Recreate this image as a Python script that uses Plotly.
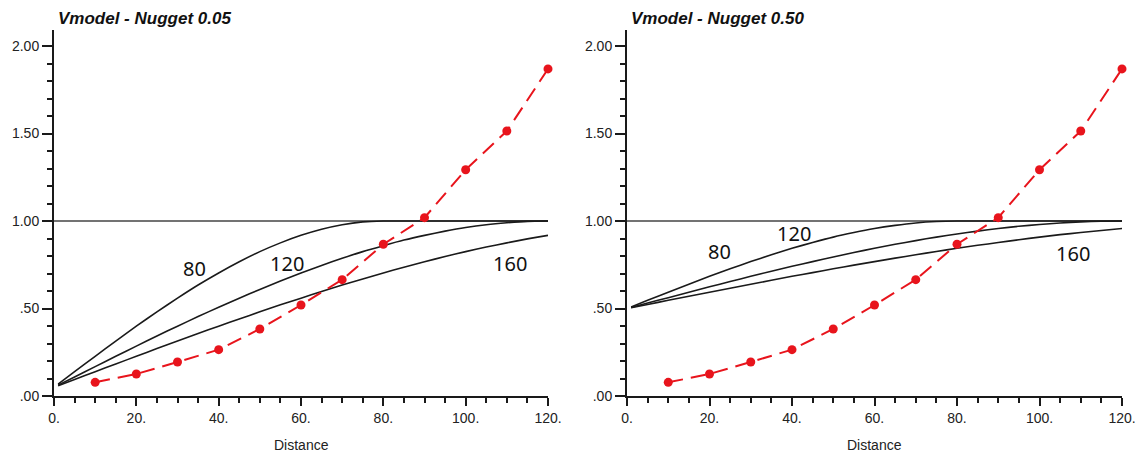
import plotly.graph_objects as go

# ---------------- data ----------------
dist_exp = [10, 20, 30, 40, 50, 60, 70, 80, 90, 100, 110, 120]
gamma_exp = [0.078, 0.126, 0.194, 0.265, 0.383, 0.520, 0.665, 0.867, 1.019, 1.293, 1.514, 1.869]

dist_model = [1, 5, 10, 15, 20, 25, 30, 35, 40, 45, 50, 55, 60, 65, 70, 75, 80,
              85, 90, 95, 100, 105, 110, 115, 120]

# Nugget 0.05
n005_r80 = [0.068, 0.139, 0.227, 0.314, 0.399, 0.481, 0.559, 0.634, 0.703, 0.767, 0.825,
            0.875, 0.918, 0.953, 0.979, 0.995, 1.0, 1.0, 1.0, 1.0, 1.0, 1.0, 1.0, 1.0, 1.0]
n005_r120 = [0.062, 0.109, 0.168, 0.227, 0.285, 0.343, 0.399, 0.454, 0.507, 0.559, 0.609,
             0.657, 0.703, 0.746, 0.787, 0.825, 0.859, 0.891, 0.918, 0.942, 0.963, 0.979,
             0.990, 0.998, 1.0]
n005_r160 = [0.059, 0.095, 0.139, 0.183, 0.227, 0.271, 0.314, 0.357, 0.399, 0.440, 0.481,
             0.521, 0.559, 0.597, 0.634, 0.669, 0.703, 0.736, 0.767, 0.797, 0.825, 0.851,
             0.875, 0.898, 0.918]

# Nugget 0.50
n050_r80 = [0.509, 0.547, 0.593, 0.639, 0.684, 0.727, 0.768, 0.807, 0.844, 0.877, 0.908,
            0.934, 0.957, 0.975, 0.989, 0.997, 1.0, 1.0, 1.0, 1.0, 1.0, 1.0, 1.0, 1.0, 1.0]
n050_r120 = [0.506, 0.531, 0.562, 0.593, 0.624, 0.654, 0.684, 0.713, 0.741, 0.768, 0.794,
             0.820, 0.844, 0.867, 0.888, 0.908, 0.926, 0.942, 0.957, 0.970, 0.980, 0.989,
             0.995, 0.999, 1.0]
n050_r160 = [0.505, 0.523, 0.547, 0.570, 0.593, 0.616, 0.639, 0.661, 0.684, 0.705, 0.727,
             0.748, 0.768, 0.788, 0.807, 0.826, 0.844, 0.861, 0.877, 0.893, 0.908, 0.922,
             0.934, 0.946, 0.957]

sill_x = [0, 120]
sill_y = [1.0, 1.0]

x_tickvals = [0, 20, 40, 60, 80, 100, 120]
x_ticktext = ["0.", "20.", "40.", "60.", "80.", "100.", "120."]
y_tickvals = [0, 0.5, 1.0, 1.5, 2.0]
y_ticktext = [".00", ".50", "1.00", "1.50", "2.00"]

titles = ["Vmodel - Nugget 0.05", "Vmodel - Nugget 0.50"]
range_labels = ["80", "120", "160"]
label_pos_left = [(34.2, 0.73), (56.6, 0.76), (110.8, 0.76)]
label_pos_right = [(22.5, 0.823), (40.5, 0.931), (108.1, 0.817)]

# ---------------- figure ----------------
W, H = 1138, 455
fig = go.Figure()

panels = [
    dict(xa="x", ya="y", models=[n005_r80, n005_r120, n005_r160], labels=label_pos_left,
         dom=[54 / W, 548 / W], title_x=56 / W),
    dict(xa="x2", ya="y2", models=[n050_r80, n050_r120, n050_r160], labels=label_pos_right,
         dom=[627 / W, 1122 / W], title_x=629 / W),
]

RED = "#e8141c"
for i, p in enumerate(panels):
    fig.add_trace(go.Scatter(x=sill_x, y=sill_y, mode="lines", xaxis=p["xa"], yaxis=p["ya"],
                             line=dict(color="#444444", width=1.5), showlegend=False,
                             hoverinfo="skip"))
    for m in p["models"]:
        fig.add_trace(go.Scatter(x=dist_model, y=m, mode="lines", xaxis=p["xa"], yaxis=p["ya"],
                                 line=dict(color="#1a1a1a", width=1.6, shape="spline",
                                           smoothing=0.6),
                                 showlegend=False))
    fig.add_trace(go.Scatter(x=dist_exp, y=gamma_exp, mode="lines+markers",
                             xaxis=p["xa"], yaxis=p["ya"], cliponaxis=False,
                             line=dict(color=RED, width=2, dash="15px,8px"),
                             marker=dict(color=RED, size=9), showlegend=False))
    for lab, (lx, ly) in zip(range_labels, p["labels"]):
        fig.add_annotation(x=lx, y=ly, xref=p["xa"], yref=p["ya"], text=lab, showarrow=False,
                           xanchor="center", yanchor="middle",
                           font=dict(family="Noto Sans", size=20, color="#111111"))
    fig.add_annotation(x=p["title_x"], y=(H - 19) / H, xref="paper", yref="paper",
                       text="<b><i>" + titles[i] + "</i></b>", showarrow=False,
                       xanchor="left", yanchor="middle",
                       font=dict(family="Liberation Sans", size=17, color="#111111"))
    fig.add_annotation(x=(p["dom"][0] + p["dom"][1]) / 2, y=(H - 445) / H, xref="paper",
                       yref="paper", text="Distance", showarrow=False,
                       xanchor="center", yanchor="middle",
                       font=dict(family="Liberation Sans", size=14, color="#222222"))

ydom = [(H - 396) / H, (H - 396 + 2.09 * 175) / H]

axis_common_x = dict(range=[0, 120], showgrid=False, zeroline=False, showline=True,
                     linecolor="#1a1a1a", linewidth=2, ticks="outside", ticklen=8,
                     tickwidth=1.5, tickcolor="#1a1a1a", tickvals=x_tickvals,
                     ticktext=x_ticktext, automargin=False,
                     tickfont=dict(family="Liberation Sans", size=14, color="#222222"),
                     minor=dict(dtick=5, tick0=0, ticks="outside", ticklen=5, tickwidth=1.5,
                                tickcolor="#1a1a1a", showgrid=False))
axis_common_y = dict(range=[0, 2.09], showgrid=False, zeroline=False, showline=True,
                     linecolor="#1a1a1a", linewidth=2, ticks="outside", ticklen=10,
                     tickwidth=1.5, tickcolor="#1a1a1a", tickvals=y_tickvals,
                     ticktext=y_ticktext, automargin=False, domain=ydom,
                     tickfont=dict(family="Liberation Sans", size=14, color="#222222"),
                     minor=dict(dtick=0.1, tick0=0, ticks="outside", ticklen=5, tickwidth=1.5,
                                tickcolor="#1a1a1a", showgrid=False))

fig.update_layout(
    width=W, height=H,
    margin=dict(l=0, r=0, t=0, b=0),
    paper_bgcolor="white", plot_bgcolor="white",
    xaxis=dict(axis_common_x, domain=panels[0]["dom"], anchor="y"),
    yaxis=dict(axis_common_y, anchor="x"),
    xaxis2=dict(axis_common_x, domain=panels[1]["dom"], anchor="y2"),
    yaxis2=dict(axis_common_y, anchor="x2"),
)

fig.write_html("out.html")
